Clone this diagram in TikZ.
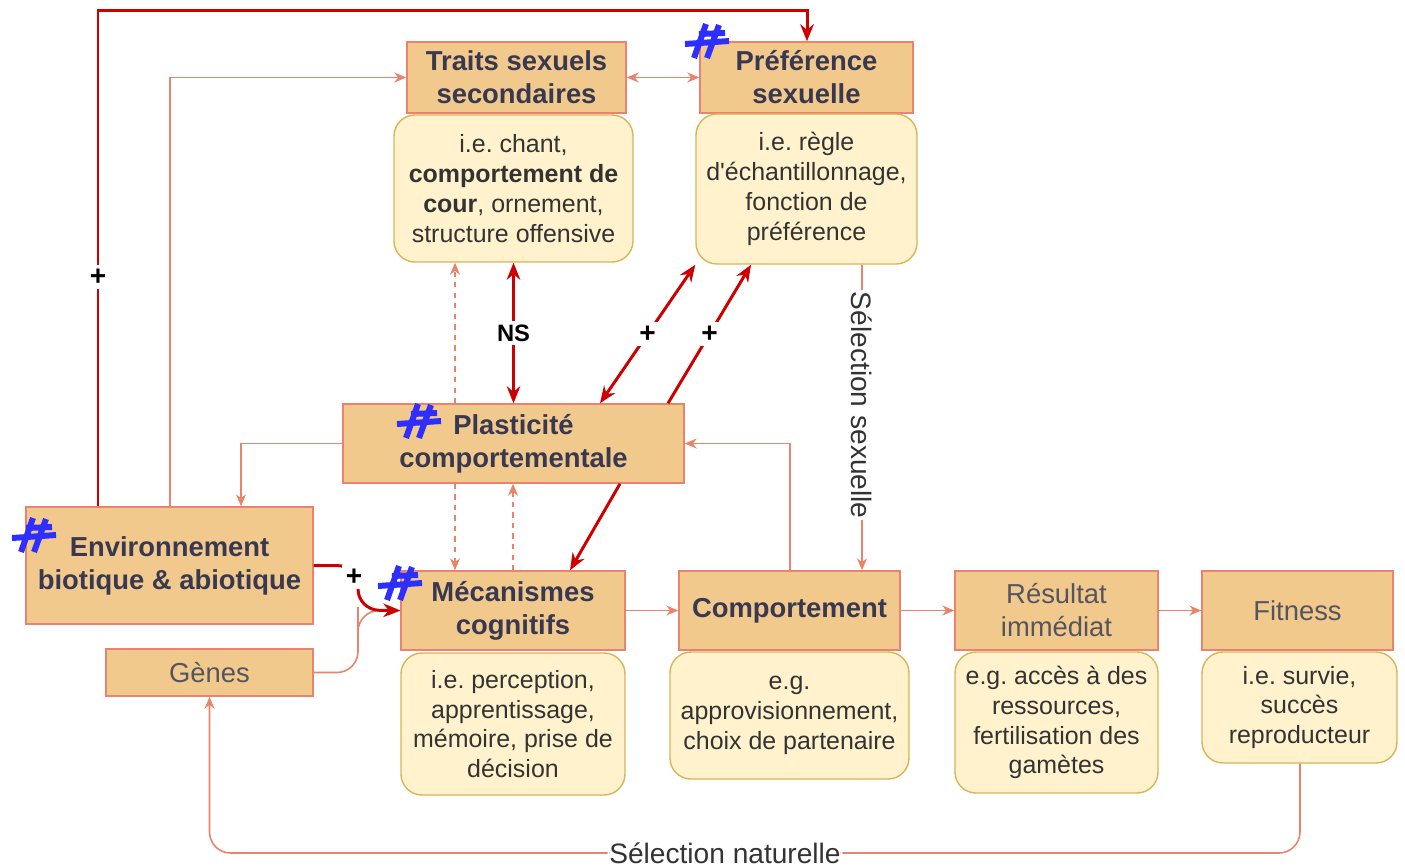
\documentclass[tikz,border=0pt]{standalone}
\usepackage{fontspec}
\setmainfont{Liberation Sans}[Ligatures=TeXOff]
\usetikzlibrary{arrows.meta, positioning, calc}
\definecolor{boxfill}{HTML}{F1C98D}
\definecolor{boxline}{HTML}{E9836E}
\definecolor{infofill}{HTML}{FFF2CC}
\definecolor{infoline}{HTML}{D6B656}
\definecolor{linkred}{HTML}{CC0000}
\definecolor{linksal}{HTML}{E8836C}
\definecolor{headtxt}{HTML}{383850}
\definecolor{softtxt}{HTML}{555560}
\definecolor{hashblue}{HTML}{2E2EFF}
\frenchspacing

\begin{document}
\begin{tikzpicture}[x=0.02cm, y=-0.02cm,
  wh/.style 2 args={minimum width=#1*0.02cm, minimum height=#2*0.02cm},
  head/.style={draw=boxline, line width=0.8pt, fill=boxfill, align=center, text=headtxt,
    font=\fontsize{15.6}{18.8}\selectfont\bfseries, inner sep=0pt},
  plain/.style={head, font=\fontsize{15.6}{18.8}\selectfont, text=softtxt},
  info/.style={draw=infoline, line width=0.8pt, fill=infofill, rounded corners=0.42cm,
    align=center, text=black!80, font=\fontsize{14.2}{17}\selectfont, inner sep=0pt},
  redl/.style={draw=linkred, line width=1.7pt, >={Stealth[length=0.34cm, width=0.27cm]}},
  sal/.style={draw=linksal, line width=0.9pt, >={Stealth[length=0.24cm, width=0.2cm]}},
  sign/.style={fill=white, font=\fontsize{16}{16}\selectfont\bfseries, inner sep=2pt},
  lbl/.style={fill=white, font=\fontsize{16}{16}\selectfont, text=black!80, inner sep=1pt},
  hashmark/.pic={
    \draw[hashblue, line width=3.4pt]
      (-13,17) -- (-1,-17) (0,17) -- (12,-16)
      (-8,-7) -- (18,-8) (-22,3) -- (22,0);
  }
]
\fill[white] (0,0) rectangle (1405,867);
\useasboundingbox (0,0) rectangle (1405,867);

% boxes
\node[head, wh={219}{71}] (traits) at (516.5,77.5) {Traits sexuels\\secondaires};
\node[info, wh={239}{147}] (traitsInfo) at (513.5,188.5)
  {i.e. chant,\\\textbf{comportement de}\\\textbf{cour}, ornement,\\structure offensive};
\node[head, wh={213}{71}] (pref) at (806.5,77.5) {Préférence\\sexuelle};
\node[info, wh={221}{150}] (prefInfo) at (806.5,189)
  {i.e. règle\\d'échantillonnage,\\fonction de\\préférence};
\node[head, wh={341}{79}] (plast) at (513.5,443.5) {Plasticité\\comportementale};
\node[head, wh={287}{117}] (env) at (169.5,565.5) {Environnement\\biotique \& abiotique};
\node[plain, wh={207}{47}] (genes) at (209.5,672.5) {Gènes};
\node[head, wh={224}{79}] (meca) at (513,610.5) {Mécanismes\\cognitifs};
\node[info, wh={224}{142}] (mecaInfo) at (513,724)
  {i.e. perception,\\apprentissage,\\mémoire, prise de\\décision};
\node[head, wh={221}{79}] (comp) at (789.5,610.5) {Comportement};
\node[info, wh={239}{127}] (compInfo) at (789.5,715.5)
  {e.g.\\approvisionnement,\\choix de partenaire};
\node[plain, wh={203}{79}] (res) at (1056.5,610.5) {Résultat\\immédiat};
\node[info, wh={203}{141}] (resInfo) at (1056.5,722.5)
  {e.g. accès à des\\ressources,\\fertilisation des\\gamètes};
\node[plain, wh={191}{79}] (fit) at (1297.5,610.5) {Fitness};
\node[info, wh={195}{111}] (fitInfo) at (1299.5,707.5)
  {i.e. survie,\\succès\\reproducteur};

% salmon links
\draw[sal, ->] (170,0 |- env.north) |- (traits.west);
\draw[sal, <->] (traits.east) -- (pref.west);
\draw[sal, ->, dashed] (455,0 |- plast.north) -- (455,0 |- traitsInfo.south);
\draw[sal, ->, dashed] (455,0 |- plast.south) -- (455,0 |- meca.north);
\draw[sal, ->, dashed] (513,0 |- meca.north) -- (513,0 |- plast.south);
\draw[sal, ->] (plast.west) -| (241,0 |- env.north);
\draw[sal, ->] (790,0 |- comp.north) |- (plast.east);
\draw[sal, ->] (862,0 |- prefInfo.south) -- node[lbl, rotate=-90, pos=0.46] (selSex) {Sélection sexuelle} (862,0 |- comp.north);
\draw[sal, ->, rounded corners=12] (genes.east) -| (358,628) |- (meca.west);
\draw[sal, ->] (meca.east) -- (comp.west);
\draw[sal, ->] (comp.east) -- (res.west);
\draw[sal, ->] (res.east) -- (fit.west);
\draw[sal, ->, rounded corners=12] (1300,0 |- fitInfo.south) |- (725,853)
  node[lbl] (selNat) {Sélection naturelle} -| (genes.south);

% red links
\draw[redl, ->] (98,0 |- env.north) |- (807,10) -- (807,0 |- pref.north);
\node[sign] (plusEnv) at (98,277) {+};
\draw[redl, <->] (traitsInfo.south) -- node[sign, font=\fontsize{13.5}{13.5}\selectfont\bfseries] (ns) {NS} (513.5,0 |- plast.north);
\draw[redl, <->] (600,0 |- plast.north) -- node[sign] (plusA) {+} (prefInfo.south west);
\draw[redl, ->] (668,0 |- plast.north) -- node[sign] (plusB) {+} (751,0 |- prefInfo.south);
\draw[redl, ->] (620,0 |- plast.south) -- (570,0 |- meca.north);
\draw[redl, ->, rounded corners=12] (env.east) -- (358,0 |- env.east) -- (358,610) -- (meca.west);
\node[sign] (plusMeca) at (354,577) {+};

% hashes
\pic at (707,41) {hashmark};
\pic at (419,421) {hashmark};
\pic at (34,535) {hashmark};
\pic at (400,583) {hashmark};
\end{tikzpicture}
\end{document}
